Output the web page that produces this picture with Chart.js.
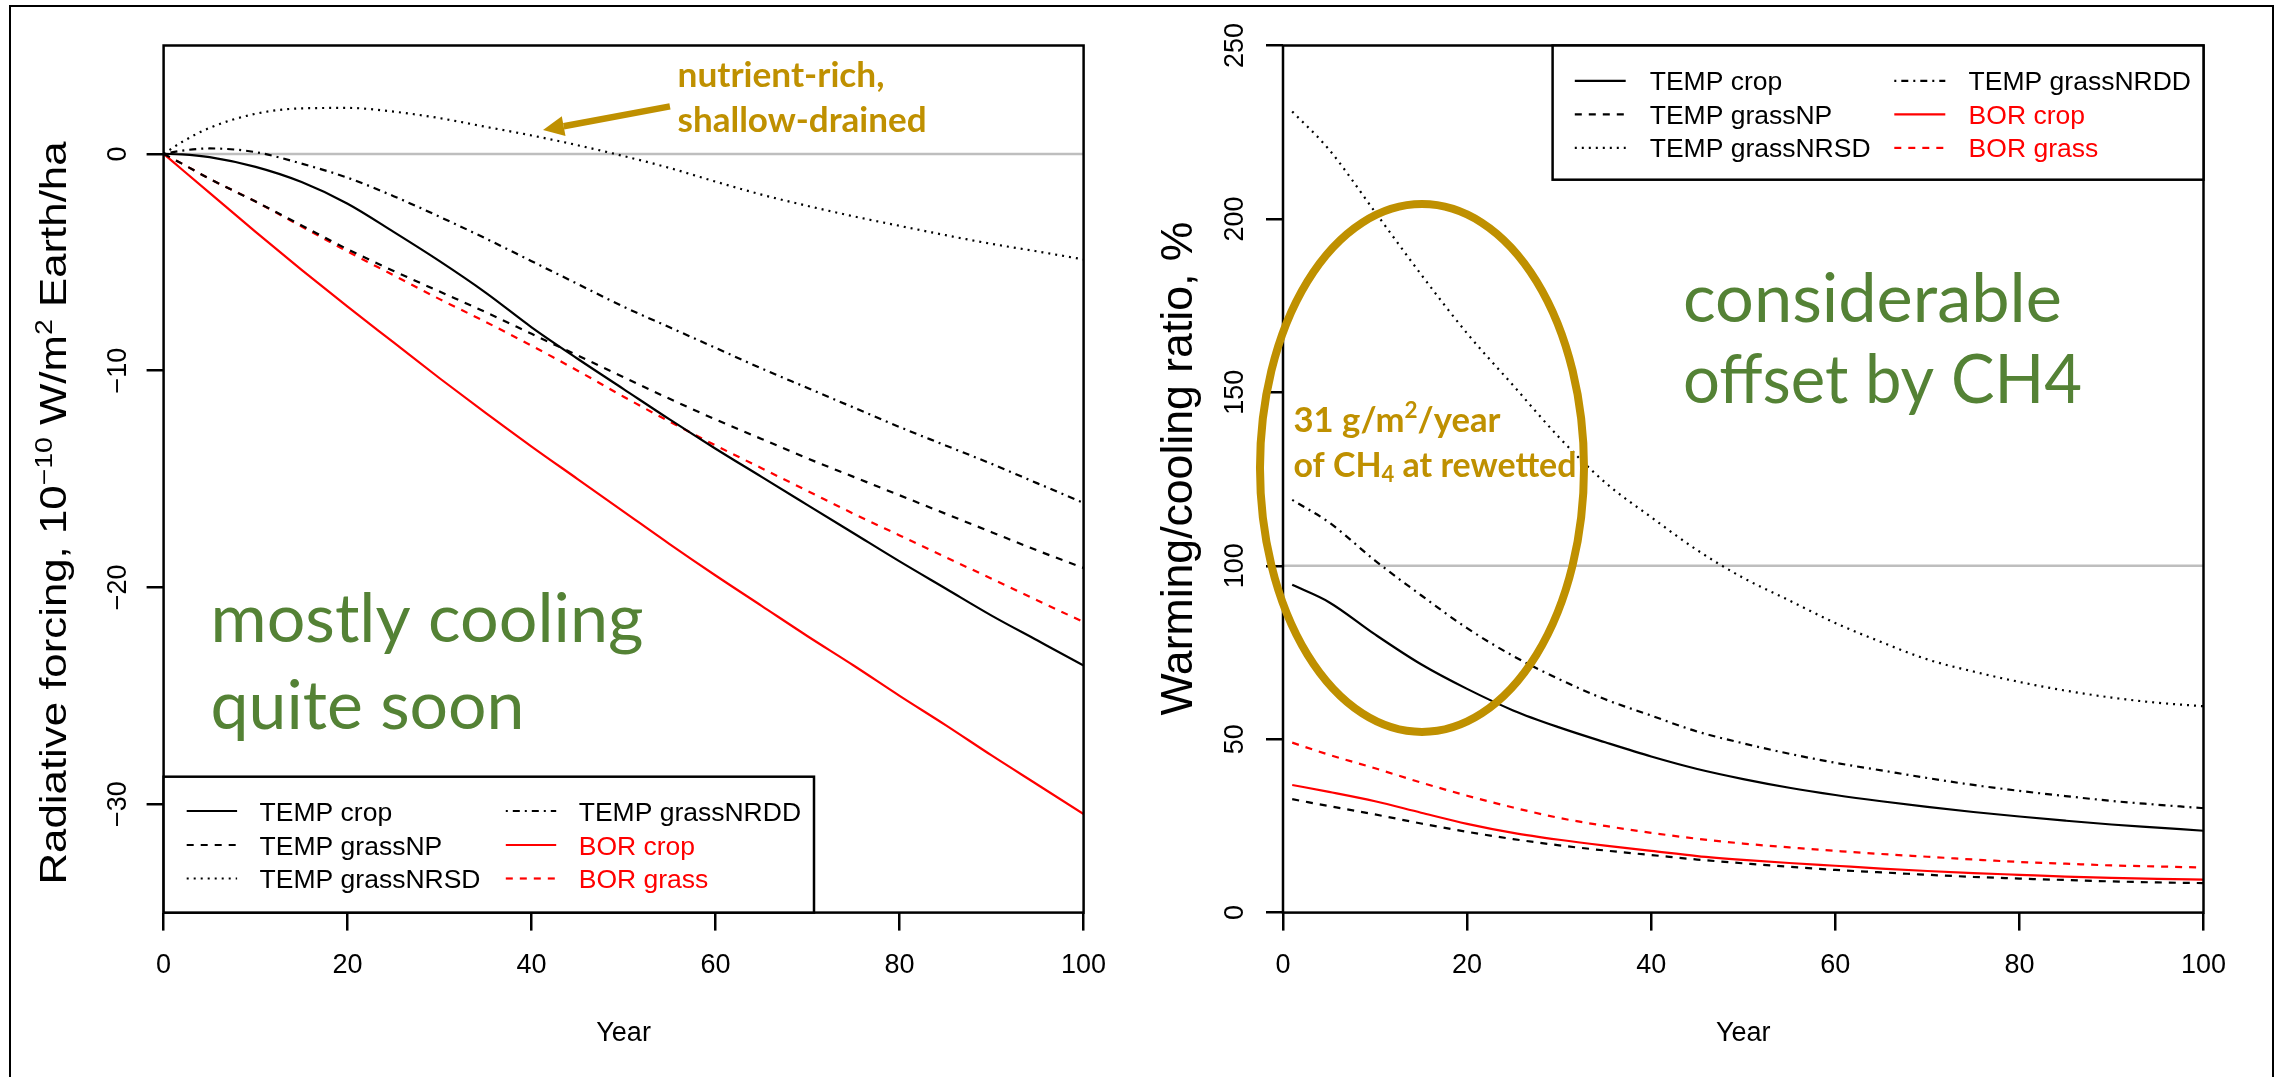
<!DOCTYPE html>
<html>
<head>
<meta charset="utf-8">
<script src="https://cdn.jsdelivr.net/npm/chart.js@4.4.1/dist/chart.umd.min.js"></script>
<style>
html, body { margin: 0; padding: 0; background: #fff; }
#wrap { position: relative; width: 2275px; height: 1077px; overflow: hidden; background: #fff; }
#wrap canvas { position: absolute; left: 0; top: 0; }
#frame { position: absolute; left: 9px; top: 5px; width: 2265px; height: 1200px; border: 2.5px solid #000; box-sizing: border-box; }
</style>
</head>
<body>
<div id="wrap">
  <div id="frame"></div>
  <canvas id="rfChart" width="2275" height="1077"></canvas>
  <canvas id="ratioChart" width="2275" height="1077"></canvas>
</div>
<script>
// 系列名（凡例の順）
const seriesNames = ['TEMP crop', 'TEMP grassNP', 'TEMP grassNRSD', 'TEMP grassNRDD', 'BOR crop', 'BOR grass'];

// 左: Radiative forcing（年）
const yearsRF = [0, 2, 5, 10, 15, 20, 25, 30, 35, 40, 45, 50, 55, 60, 65, 70, 75, 80, 85, 90, 95, 100];
const rfTempCrop = [0, -0.02, -0.15, -0.6, -1.3, -2.3, -3.6, -4.95, -6.4, -8.0, -9.45, -10.85, -12.25, -13.6, -14.9, -16.2, -17.5, -18.8, -20.05, -21.3, -22.45, -23.6];
const rfTempNP = [0, -0.45, -1.15, -2.2, -3.3, -4.4, -5.4, -6.35, -7.3, -8.3, -9.3, -10.3, -11.3, -12.25, -13.15, -14.05, -14.9, -15.75, -16.6, -17.45, -18.3, -19.1];
const rfTempNRSD = [0, 0.55, 1.2, 1.85, 2.1, 2.12, 1.95, 1.65, 1.25, 0.85, 0.4, -0.1, -0.65, -1.28, -1.88, -2.4, -2.88, -3.32, -3.75, -4.15, -4.5, -4.87];
const rfTempNRDD = [0, 0.15, 0.25, 0.08, -0.45, -1.1, -1.95, -2.9, -3.9, -4.95, -6.0, -7.05, -8.0, -8.95, -9.9, -10.8, -11.7, -12.6, -13.45, -14.3, -15.2, -16.1];
const rfBorCrop = [0, -0.72, -1.8, -3.6, -5.35, -7.05, -8.7, -10.35, -11.95, -13.5, -15.0, -16.5, -18.0, -19.45, -20.85, -22.25, -23.6, -25.0, -26.35, -27.75, -29.1, -30.45];
const rfBorGrass = [0, -0.45, -1.15, -2.2, -3.35, -4.5, -5.6, -6.7, -7.75, -8.85, -10.0, -11.2, -12.35, -13.45, -14.5, -15.55, -16.6, -17.6, -18.6, -19.6, -20.6, -21.6];
const rfTicks = [-30, -20, -10, 0];

// 右: Warming/cooling ratio, %
const yearsRatio = [1, 5, 10, 15, 20, 25, 30, 35, 40, 45, 50, 55, 60, 65, 70, 75, 80, 85, 90, 95, 100];
const ratioTempCrop = [94.5, 89.5, 80.2, 71.6, 64.5, 58.3, 53.4, 49.1, 45.0, 41.4, 38.5, 36.0, 33.9, 32.1, 30.5, 29.0, 27.7, 26.5, 25.4, 24.5, 23.6];
const ratioTempNP = [32.7, 30.7, 28.3, 25.7, 23.3, 21.2, 19.4, 17.9, 16.6, 15.3, 14.2, 13.2, 12.3, 11.6, 10.9, 10.3, 9.8, 9.4, 9.0, 8.7, 8.5];
const ratioTempNRSD = [231, 220, 202, 184, 167, 152, 137, 124, 114, 104.5, 96.5, 90, 83.5, 78, 73, 69.5, 66.5, 64, 62, 60.5, 59.5];
const ratioTempNRDD = [119, 112.5, 101.5, 91.5, 82, 74, 67.3, 61.5, 56.8, 52.2, 48.8, 45.8, 43.2, 41, 38.8, 36.8, 35.1, 33.6, 32.2, 31.1, 30.1];
const ratioBorCrop = [36.8, 34.8, 32.1, 28.8, 25.6, 23.0, 21.0, 19.3, 17.8, 16.3, 15.2, 14.3, 13.5, 12.7, 12.0, 11.4, 10.9, 10.4, 10.0, 9.7, 9.5];
const ratioBorGrass = [49.0, 45.5, 41.6, 37.5, 33.7, 30.3, 27.3, 25.0, 23.0, 21.3, 19.9, 18.8, 17.8, 16.9, 16.1, 15.3, 14.6, 14.1, 13.6, 13.3, 13.0];
const ratioTicks = [0, 50, 100, 150, 200, 250];
const yearTicks = [0, 20, 40, 60, 80, 100];

// 線の見た目（R の lty に合わせる）
const lineStyles = [
  { color: '#000000', dash: [] },
  { color: '#000000', dash: [7, 7] },
  { color: '#000000', dash: [2, 5] },
  { color: '#000000', dash: [2, 5, 7, 5] },
  { color: '#ff0000', dash: [] },
  { color: '#ff0000', dash: [7, 7] }
];

const GOLD = '#bf9000';
const GREEN = '#548235';
const AXIS_FONT = '"Liberation Sans", Arial, sans-serif';
const NOTE_FONT = 'Lato, "Open Sans", sans-serif';

function toPoints(xs, ys) {
  return xs.map((x, i) => ({ x: x, y: ys[i] }));
}

function makeDatasets(xs, series, refY) {
  const sets = series.map((ys, i) => ({
    label: seriesNames[i],
    data: toPoints(xs, ys),
    borderColor: lineStyles[i].color,
    borderDash: lineStyles[i].dash,
    borderWidth: 2.2,
    pointRadius: 0,
    fill: false,
    cubicInterpolationMode: 'monotone',
    order: 0
  }));
  // 基準線（灰色）
  sets.push({
    label: '',
    data: [{ x: 0, y: refY }, { x: 100, y: refY }],
    borderColor: '#bebebe',
    borderWidth: 2.5,
    pointRadius: 0,
    order: 1
  });
  return sets;
}

// 上付き・下付きを含む文字列を、指定幅に合わせて描く
function drawRich(ctx, segs, x, y, o) {
  const font = s => `${o.weight || 'normal'} ${s}px ${o.family}`;
  const small = o.size * 0.65;
  let w = 0;
  segs.forEach(s => {
    ctx.font = font(s.sup || s.sub ? small : o.size);
    s.w = ctx.measureText(s.t).width;
    w += s.w;
  });
  const k = o.width ? o.width / w : 1;
  ctx.save();
  ctx.translate(x, y);
  if (o.rotate) ctx.rotate(o.rotate);
  ctx.scale(k, 1);
  ctx.fillStyle = o.color;
  ctx.textAlign = 'left';
  ctx.textBaseline = 'alphabetic';
  let cx = o.align === 'center' ? -w / 2 : 0;
  segs.forEach(s => {
    ctx.font = font(s.sup || s.sub ? small : o.size);
    const dy = s.sup ? -o.size * 0.4 : (s.sub ? o.size * 0.17 : 0);
    ctx.fillText(s.t, cx, dy);
    cx += s.w;
  });
  ctx.restore();
}

const fmtTick = v => (v < 0 ? '\u2212' + Math.abs(v) : String(v));

// R 風の枠・目盛ラベル・凡例・注記を描くプラグイン
const rStyle = {
  id: 'rStyle',
  afterDatasetsDraw(chart, args, opts) {
    const ctx = chart.ctx;
    const a = chart.chartArea;
    const xs = chart.scales.x;
    const ys = chart.scales.y;
    ctx.save();
    ctx.setLineDash([]);
    ctx.strokeStyle = '#000';
    ctx.lineWidth = 2.5;
    ctx.strokeRect(a.left, a.top, a.right - a.left, a.bottom - a.top);

    // 目盛ラベル
    ctx.fillStyle = '#000';
    ctx.font = '27px ' + AXIS_FONT;
    ctx.textAlign = 'center';
    ctx.textBaseline = 'alphabetic';
    xs.ticks.forEach(t => ctx.fillText(String(t.value), xs.getPixelForValue(t.value), a.bottom + 60.5));
    ys.ticks.forEach(t => {
      ctx.save();
      ctx.translate(a.left - opts.yTickGap, ys.getPixelForValue(t.value));
      ctx.rotate(-Math.PI / 2);
      ctx.fillText(fmtTick(t.value), 0, 0);
      ctx.restore();
    });
    ctx.fillText('Year', (a.left + a.right) / 2, a.bottom + 128.5);

    // y 軸タイトル
    const yt = opts.yTitle;
    drawRich(ctx, yt.segs, yt.x, yt.y, { size: yt.size, family: AXIS_FONT, color: '#000', width: yt.width, rotate: -Math.PI / 2, align: 'center' });

    // 凡例（2 列 × 3 行、列方向に並べる）
    const lg = opts.legend;
    ctx.lineWidth = 2.5;
    ctx.strokeStyle = '#000';
    ctx.fillStyle = '#fff';
    ctx.fillRect(lg.x1, lg.y1, lg.x2 - lg.x1, lg.y2 - lg.y1);
    ctx.strokeRect(lg.x1, lg.y1, lg.x2 - lg.x1, lg.y2 - lg.y1);
    ctx.font = '26.5px ' + AXIS_FONT;
    ctx.textAlign = 'left';
    seriesNames.forEach((name, i) => {
      const col = Math.floor(i / 3), row = i % 3;
      const st = lineStyles[i];
      const y = lg.rows[row];
      ctx.strokeStyle = st.color;
      ctx.lineWidth = 2.2;
      ctx.setLineDash(st.dash);
      ctx.beginPath();
      ctx.moveTo(lg.sample[col][0], y);
      ctx.lineTo(lg.sample[col][1], y);
      ctx.stroke();
      ctx.fillStyle = st.color;
      ctx.fillText(name, lg.text[col], y + 9.5);
    });
    ctx.setLineDash([]);

    // 注記
    (opts.notes || []).forEach(n => {
      drawRich(ctx, n.segs, xs.getPixelForValue(n.x), ys.getPixelForValue(n.y),
        { size: n.size, family: NOTE_FONT, weight: n.weight, color: n.color, width: n.width });
    });
    (opts.arrows || []).forEach(ar => {
      const x0 = xs.getPixelForValue(ar.from[0]), y0 = ys.getPixelForValue(ar.from[1]);
      const x1 = xs.getPixelForValue(ar.to[0]), y1 = ys.getPixelForValue(ar.to[1]);
      const ang = Math.atan2(y1 - y0, x1 - x0);
      const hl = 21, hw = 10;
      const bx = x1 - hl * Math.cos(ang), by = y1 - hl * Math.sin(ang);
      ctx.strokeStyle = ar.color;
      ctx.fillStyle = ar.color;
      ctx.lineWidth = 6.5;
      ctx.beginPath();
      ctx.moveTo(x0, y0);
      ctx.lineTo(bx, by);
      ctx.stroke();
      ctx.beginPath();
      ctx.moveTo(x1, y1);
      ctx.lineTo(bx + hw * Math.sin(ang), by - hw * Math.cos(ang));
      ctx.lineTo(bx - hw * Math.sin(ang), by + hw * Math.cos(ang));
      ctx.closePath();
      ctx.fill();
    });
    (opts.ellipses || []).forEach(e => {
      const cx = xs.getPixelForValue(e.x), cy = ys.getPixelForValue(e.y);
      const rx = Math.abs(xs.getPixelForValue(e.x + e.rx) - cx);
      const ry = Math.abs(ys.getPixelForValue(e.y + e.ry) - cy);
      ctx.strokeStyle = e.color;
      ctx.lineWidth = 8;
      ctx.beginPath();
      ctx.ellipse(cx, cy, rx, ry, 0, 0, Math.PI * 2);
      ctx.stroke();
    });
    ctx.restore();
  }
};

function axisOptions(min, max, ticks, size, tickLen) {
  return {
    type: 'linear',
    min: min,
    max: max,
    afterBuildTicks: s => { s.ticks = ticks.map(v => ({ value: v })); },
    afterFit: size,
    ticks: { display: false },
    grid: { display: true, drawOnChartArea: false, drawTicks: true, tickLength: tickLen, color: '#000', lineWidth: 2.5 },
    border: { display: false }
  };
}

function makeChart(id, xs, series, refY, yMin, yMax, yTicks, area, plot) {
  return new Chart(document.getElementById(id), {
    type: 'line',
    data: { datasets: makeDatasets(xs, series, refY) },
    options: {
      responsive: false,
      devicePixelRatio: 1,
      animation: false,
      events: [],
      layout: { padding: { left: 0, top: area.top, right: 2275 - area.right, bottom: 0 } },
      scales: {
        x: axisOptions(0, 100, yearTicks, s => { s.height = 1077 - area.bottom; }, 18),
        y: axisOptions(yMin, yMax, yTicks, s => { s.width = area.left; }, 17)
      },
      plugins: { legend: { display: false }, tooltip: { enabled: false }, rStyle: plot }
    },
    plugins: [rStyle]
  });
}

makeChart('rfChart', yearsRF,
  [rfTempCrop, rfTempNP, rfTempNRSD, rfTempNRDD, rfBorCrop, rfBorGrass], 0, -35, 5, rfTicks,
  { left: 163.6, right: 1083.6, top: 45.5, bottom: 912.6 },
  {
    yTickGap: 38,
    yTitle: {
      x: 66, y: 513, size: 36, width: 743,
      segs: [{ t: 'Radiative forcing, 10' }, { t: '\u221210', sup: true }, { t: ' W/m' }, { t: '2', sup: true }, { t: ' Earth/ha' }]
    },
    legend: { x1: 163.6, y1: 776.7, x2: 814, y2: 912.6, rows: [811, 845, 878.5], sample: [[186.7, 237.1], [505.8, 556.2]], text: [259.6, 578.7] },
    notes: [
      { segs: [{ t: 'nutrient-rich,' }], x: 55.86, y: 3.07, size: 34, weight: 'bold', color: GOLD, width: 207 },
      { segs: [{ t: 'shallow-drained' }], x: 55.86, y: 1.01, size: 34, weight: 'bold', color: GOLD, width: 249 },
      { segs: [{ t: 'mostly cooling' }], x: 5.1, y: -22.52, size: 67, weight: 'normal', color: GREEN, width: 433 },
      { segs: [{ t: 'quite soon' }], x: 5.1, y: -26.53, size: 67, weight: 'normal', color: GREEN, width: 314 }
    ],
    arrows: [{ from: [55.04, 2.19], to: [41.24, 1.10], color: GOLD }]
  });

makeChart('ratioChart', yearsRatio,
  [ratioTempCrop, ratioTempNP, ratioTempNRSD, ratioTempNRDD, ratioBorCrop, ratioBorGrass], 100, 0, 250, ratioTicks,
  { left: 1283, right: 2203.5, top: 45.5, bottom: 912.6 },
  {
    yTickGap: 40,
    yTitle: { x: 1191.5, y: 468.6, size: 44, width: 494, segs: [{ t: 'Warming/cooling ratio, %' }] },
    legend: { x1: 1552.6, y1: 45.5, x2: 2203.5, y2: 179.7, rows: [80.8, 114.3, 147.9], sample: [[1574.8, 1625.7], [1894.3, 1945.3]], text: [1649.7, 1968.6] },
    notes: [
      { segs: [{ t: 'considerable' }], x: 43.45, y: 170.3, size: 67, weight: 'normal', color: GREEN, width: 379 },
      { segs: [{ t: 'offset by CH4' }], x: 43.45, y: 146.9, size: 67, weight: 'normal', color: GREEN, width: 399 },
      { segs: [{ t: '31 g/m' }, { t: '2', sup: true }, { t: '/year' }], x: 1.14, y: 138.65, size: 34, weight: 'bold', color: GOLD, width: 207 },
      { segs: [{ t: 'of CH' }, { t: '4', sub: true }, { t: ' at rewetted' }], x: 1.14, y: 125.7, size: 34, weight: 'bold', color: GOLD, width: 283 }
    ],
    ellipses: [{ x: 15.1, y: 128.2, rx: 17.6, ry: 76.1, color: GOLD }]
  });
</script>
</body>
</html>
